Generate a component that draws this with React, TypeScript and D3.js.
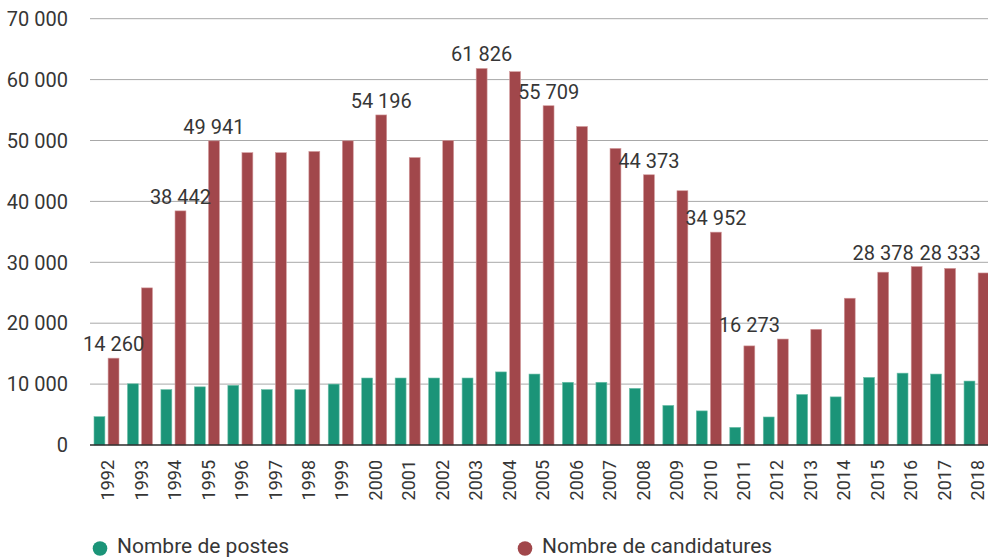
import * as d3 from "d3";

const years = [
  "1992", "1993", "1994", "1995", "1996", "1997", "1998", "1999", "2000",
  "2001", "2002", "2003", "2004", "2005", "2006", "2007", "2008", "2009",
  "2010", "2011", "2012", "2013", "2014", "2015", "2016", "2017", "2018",
];

// Nombre de postes (green)
const postes = [
  4650, 10050, 9100, 9550, 9800, 9100, 9100, 10000, 11000,
  11000, 11000, 11000, 12000, 11650, 10300, 10300, 9300, 6500,
  5600, 2900, 4600, 8300, 7900, 11100, 11800, 11650, 10500,
];

// Nombre de candidatures (red)
const candidatures = [
  14260, 25800, 38442, 49941, 48000, 48000, 48200, 49950, 54196,
  47200, 50000, 61826, 61300, 55709, 52300, 48700, 44373, 41750,
  34952, 16273, 17400, 19000, 24100, 28378, 29300, 29000, 28250,
];

// data labels shown above some of the red bars
const labelYears = ["1992", "1994", "1995", "2000", "2003", "2005", "2008", "2010", "2011", "2015", "2017"];
const labelTexts = ["14 260", "38 442", "49 941", "54 196", "61 826", "55 709", "44 373", "34 952", "16 273", "28 378", "28 333"];

const yTicks = [0, 10000, 20000, 30000, 40000, 50000, 60000, 70000];

const series = ["postes", "candidatures"];
const seriesNames = ["Nombre de postes", "Nombre de candidatures"];
const colors = ["#1b9478", "#a1474b"];
const strokes = ["#6fc0aa", "#d39a9c"];

const W = 988;
const H = 558;
const FONT = "Roboto, 'DejaVu Sans', sans-serif";
const TEXT = "#363636";

const fmt = (v: number) => d3.format(",")(v).replace(/,/g, " ");

export default function App() {
  const x = d3.scaleBand<string>().domain(years).range([90, 993.5]).padding(0);
  const xs = d3.scaleBand<string>().domain(series).range([4, 29]).paddingInner(0.227);
  const y = d3.scaleLinear().domain([0, 70000]).range([445, 18.7]);

  const values = [postes, candidatures];

  // a label is lifted above a taller neighbouring bar when it would touch it
  const labelTop = (i: number) => {
    let top = y(candidatures[i]);
    const nb = [i - 1, i + 1].filter((j) => j >= 0 && j < years.length);
    nb.forEach((j) => {
      const t = y(candidatures[j]);
      if (t < top && top - t < 15) top = t;
    });
    return top;
  };

  return (
    <svg
      width={W}
      height={H}
      style={{ position: "absolute", left: 0, top: 0, background: "#fff" }}
      fontFamily={FONT}
    >
      {/* gridlines + y labels */}
      {yTicks.map((t) => (
        <g key={t}>
          {t !== 0 && (
            <line x1={90} x2={W} y1={y(t)} y2={y(t)} stroke="#a8a8a8" strokeWidth={1} />
          )}
          <text
            x={68}
            y={y(t)}
            dy="0.36em"
            textAnchor="end"
            fontSize={20}
            fill={TEXT}
          >
            {fmt(t)}
          </text>
        </g>
      ))}

      {/* bars */}
      {series.map((s, si) => (
        <g key={s}>
          {years.map((yr, i) => {
            const v = values[si][i];
            const bx = (x(yr) as number) + (xs(s) as number);
            return (
              <rect
                key={yr}
                x={bx}
                y={y(v)}
                width={xs.bandwidth()}
                height={y(0) - y(v)}
                fill={colors[si]}
                stroke={strokes[si]}
                strokeWidth={0.6}
              />
            );
          })}
        </g>
      ))}

      {/* baseline */}
      <line x1={90} x2={W} y1={y(0)} y2={y(0)} stroke="#2b2b2b" strokeWidth={1.5} />

      {/* data labels */}
      {labelYears.map((yr, li) => {
        const i = years.indexOf(yr);
        const cx = (x(yr) as number) + (xs("candidatures") as number) + xs.bandwidth() / 2;
        return (
          <text
            key={yr}
            x={cx}
            y={labelTop(i) - 7}
            textAnchor="middle"
            fontSize={20}
            fill={TEXT}
          >
            {labelTexts[li]}
          </text>
        );
      })}

      {/* year labels */}
      {years.map((yr) => {
        const cx = (x(yr) as number) + x.bandwidth() / 2;
        return (
          <text
            key={yr}
            transform={`translate(${cx + 1},${460}) rotate(-90)`}
            dy="0.36em"
            textAnchor="end"
            fontSize={18}
            fill={TEXT}
          >
            {yr}
          </text>
        );
      })}

      {/* legend */}
      {seriesNames.map((name, i) => {
        const lx = i === 0 ? 100 : 525;
        return (
          <g key={name}>
            <circle cx={lx} cy={548.5} r={7.3} fill={colors[i]} />
            <text x={lx + 17} y={553} fontSize={21} fill={TEXT}>
              {name}
            </text>
          </g>
        );
      })}
    </svg>
  );
}
